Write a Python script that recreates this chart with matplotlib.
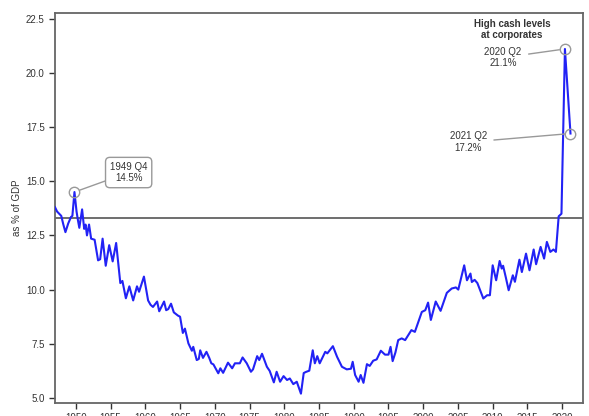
import matplotlib.pyplot as plt

plt.rcParams['font.family'] = ['Liberation Sans', 'DejaVu Sans']

# quarterly-ish vertices (decimal year, % of GDP)
years = [1947.0, 1947.3, 1947.6, 1947.9, 1948.2, 1948.5, 1948.9, 1949.3, 1949.5, 1949.8,
         1950.1, 1950.3, 1950.5, 1950.9, 1951.2, 1951.4, 1951.6, 1951.9, 1952.2, 1952.7,
         1953.2, 1953.5, 1953.85, 1954.3, 1954.8, 1955.3, 1955.8, 1956.4, 1956.7, 1957.2,
         1957.7, 1958.25, 1958.8, 1959.1, 1959.8, 1960.4, 1960.75, 1961.1, 1961.7, 1962.0,
         1962.7, 1963.0, 1963.3, 1963.7, 1964.1, 1964.7, 1965.0, 1965.4, 1965.7, 1966.2,
         1966.7, 1966.9, 1967.4, 1967.7, 1967.9, 1968.3, 1968.8, 1969.2, 1969.5, 1969.8,
         1970.5, 1970.8, 1971.2, 1971.9, 1972.5, 1972.9, 1973.6, 1974.0, 1974.6, 1975.2,
         1975.5, 1976.1, 1976.4, 1976.8, 1977.5, 1977.9, 1978.5, 1978.9, 1979.4, 1979.9,
         1980.4, 1980.8, 1981.3, 1981.8, 1982.4, 1982.8, 1983.1, 1983.6, 1984.1, 1984.4,
         1984.75, 1985.1, 1985.9, 1986.2, 1987.0, 1987.6, 1988.3, 1989.0, 1989.6, 1989.85,
         1990.2, 1990.7, 1991.0, 1991.4, 1991.9, 1992.3, 1992.8, 1993.3, 1993.9, 1994.5,
         1995.0, 1995.3, 1995.6, 1996.0, 1996.4, 1996.9, 1997.4, 1998.3, 1998.8, 1999.8,
         2000.3, 2000.7, 2001.1, 2001.8, 2002.5, 2003.4, 2004.1, 2004.7, 2005.05, 2005.9,
         2006.3, 2006.8, 2007.0, 2007.4, 2007.8, 2008.2, 2008.65, 2009.2, 2009.6, 2010.0,
         2010.5, 2011.0, 2011.3, 2011.5, 2011.9, 2012.3, 2012.9, 2013.2, 2013.85, 2014.2,
         2014.8, 2015.3, 2015.9, 2016.25, 2016.9, 2017.4, 2017.8, 2018.3, 2018.75, 2019.1,
         2019.5, 2019.9, 2020.4, 2021.2]
cash = [13.8, 13.6, 13.5, 13.4, 13.0, 12.65, 13.05, 13.35, 13.4, 14.5,
        13.6, 13.2, 12.85, 13.7, 12.8, 13.0, 12.5, 13.0, 12.35, 12.3,
        11.35, 11.4, 12.35, 11.1, 12.05, 11.3, 12.15, 10.3, 10.4, 9.6,
        10.15, 9.5, 10.15, 9.9, 10.6, 9.5, 9.3, 9.2, 9.45, 9.0,
        9.45, 9.05, 9.1, 9.35, 8.95, 8.8, 8.75, 8.0, 8.2, 7.52,
        7.18, 7.36, 6.75, 6.8, 7.2, 6.85, 7.13, 6.85, 6.6, 6.55,
        6.14, 6.37, 6.16, 6.63, 6.37, 6.6, 6.6, 6.87, 6.6, 6.21,
        6.32, 6.93, 6.75, 7.04, 6.44, 6.25, 5.72, 6.21, 5.75, 6.01,
        5.83, 5.9, 5.64, 5.75, 5.2, 6.15, 6.2, 6.26, 7.2, 6.6,
        6.93, 6.6, 7.13, 7.06, 7.39, 6.9, 6.44, 6.32, 6.35, 6.67,
        6.06, 5.75, 6.06, 5.7, 6.56, 6.48, 6.72, 6.78, 7.18, 7.0,
        7.0, 7.36, 6.7, 7.1, 7.67, 7.75, 7.67, 8.13, 8.05, 8.97,
        9.05, 9.4, 8.6, 9.45, 9.02, 9.85, 10.05, 10.1, 10.0, 11.12,
        10.43, 10.74, 10.35, 10.45, 10.3, 9.97, 9.59, 9.74, 9.74, 11.12,
        10.43, 11.32, 10.97, 11.1, 10.55, 9.97, 10.66, 10.36, 11.38, 10.81,
        11.66, 10.89, 11.85, 11.17, 11.97, 11.43, 12.2, 11.74, 11.85, 11.74,
        13.38, 13.5, 21.1, 17.2]

ref_level = 13.3
xticks = list(range(1950, 2021, 5))
yticks = [5.0, 7.5, 10.0, 12.5, 15.0, 17.5, 20.0, 22.5]

fig = plt.figure(figsize=(5.89, 4.16), dpi=100)
ax = fig.add_axes([0.0934, 0.0313, 0.8964, 0.9375])

ax.plot(years, cash, color='#2222f5', lw=1.5, zorder=3)
ax.axhline(ref_level, color='#555555', lw=1.2, zorder=2)

ax.set_xlim(1947.0, 2023.0)
ax.set_ylim(4.77, 22.76)
ax.set_xticks(xticks)
ax.set_yticks(yticks)
ax.set_yticklabels(['%.1f' % v for v in yticks])
ax.tick_params(labelsize=7, colors='#333333', length=4, width=1, direction='out')
for s in ax.spines.values():
    s.set_color('#666666')
    s.set_linewidth(1.3)
ax.set_ylabel('as % of GDP', fontsize=7, color='#333333', labelpad=3)

circ = dict(marker='o', ms=7.5, mfc='none', mec='#999999', mew=1, ls='none', zorder=4)
lead = dict(arrowstyle='-', color='#999999', lw=1)

ax.plot([1949.8], [14.5], **circ)
ax.annotate('1949 Q4\n14.5%', xy=(1949.8, 14.5), xytext=(1957.6, 15.4),
            ha='center', va='center', fontsize=7, color='#333333',
            bbox=dict(boxstyle='round,pad=0.45', fc='white', ec='#999999', lw=1),
            arrowprops=dict(shrinkA=0, shrinkB=4, **lead))

ax.plot([2020.4], [21.1], **circ)
ax.annotate('2020 Q2\n21.1%', xy=(2020.4, 21.1), xytext=(2011.5, 20.7),
            ha='center', va='center', fontsize=7, color='#333333',
            arrowprops=dict(shrinkA=3, shrinkB=4, **lead))

ax.plot([2021.2], [17.2], **circ)
ax.annotate('2021 Q2\n17.2%', xy=(2021.2, 17.2), xytext=(2006.5, 16.8),
            ha='center', va='center', fontsize=7, color='#333333',
            arrowprops=dict(shrinkA=3, shrinkB=4, **lead))

ax.text(2012.8, 22.0, 'High cash levels\nat corporates', ha='center', va='center',
        fontsize=7, fontweight='bold', color='#333333', linespacing=1.1)

plt.savefig('out.png', dpi=100)
